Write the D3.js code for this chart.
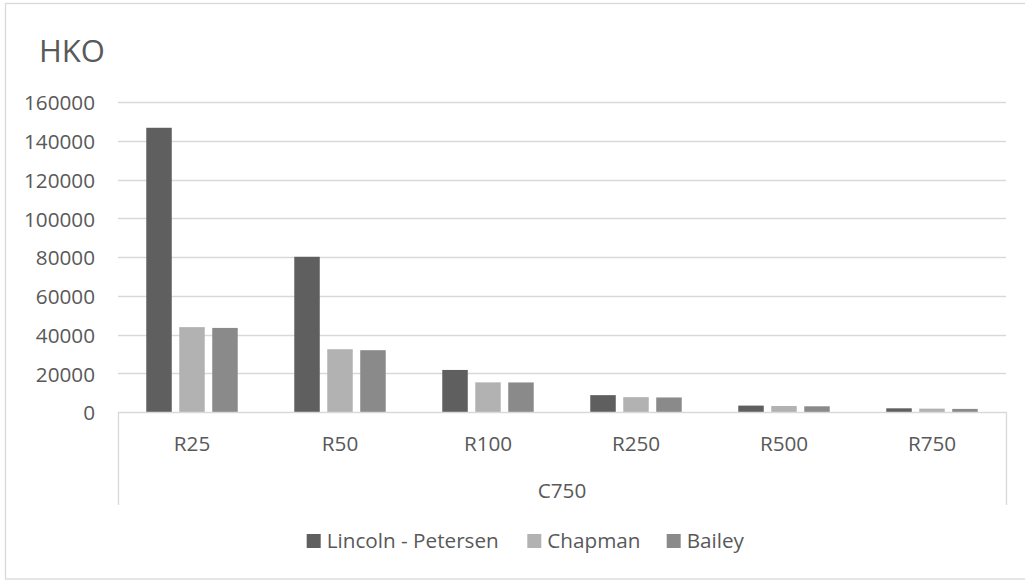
<!DOCTYPE html>
<html><head><meta charset="utf-8">
<script src="https://cdn.jsdelivr.net/npm/d3@7"></script>
<style>html,body{margin:0;padding:0;background:#fff;}svg{display:block;}</style>
</head><body>
<svg id="chart" width="1025" height="581"></svg>
<script>
const categories = ["R25", "R50", "R100", "R250", "R500", "R750"];
const groupLabel = "C750";
const seriesNames = ["Lincoln - Petersen", "Chapman", "Bailey"];
const lincolnPetersen = [146700, 80100, 21700, 8700, 3300, 1900];
const chapman = [43800, 32400, 15300, 7650, 3100, 1750];
const bailey = [43400, 31900, 15250, 7500, 2950, 1600];
const yTicks = [0, 20000, 40000, 60000, 80000, 100000, 120000, 140000, 160000];
const title = "HKO";

const seriesValues = [lincolnPetersen, chapman, bailey];
const colors = ["#5f5f5f", "#b2b2b2", "#8a8a8a"];
const textColor = "#595959";
const gridColor = "#d9d9d9";
const font = "'Open Sans', sans-serif";
const fs = 20.7;

const svg = d3.select("#chart");
const plot = {left: 118, right: 1006, top: 102, bottom: 412};

// outer border
svg.append("rect").attr("x", 5.5).attr("y", 3.5).attr("width", 1030).attr("height", 575.5)
  .attr("fill", "#fff").attr("stroke", gridColor).attr("stroke-width", 1.3);

const y = d3.scaleLinear().domain([0, 160000]).range([plot.bottom, plot.top]);
const x0 = d3.scaleBand().domain(categories).range([plot.left, plot.right]).padding(0);
const bw = x0.bandwidth();
const x1 = d3.scaleBand().domain(seriesNames).range([bw * 0.191, bw * 0.809]).paddingInner(0.227).paddingOuter(0);

// gridlines
svg.append("g").selectAll("line").data(yTicks.filter(d => d > 0)).join("line")
  .attr("x1", plot.left).attr("x2", plot.right)
  .attr("y1", d => Math.round(y(d)) + 0.5).attr("y2", d => Math.round(y(d)) + 0.5)
  .attr("stroke", gridColor).attr("stroke-width", 1.3);

// y axis labels
const yAxis = d3.axisLeft(y).tickValues(yTicks).tickSize(0).tickPadding(23).tickFormat(d3.format("d"));
const gy = svg.append("g").attr("transform", `translate(${plot.left},0)`).call(yAxis);
gy.select(".domain").remove();
gy.selectAll("text").attr("font-family", font).attr("font-size", fs).attr("fill", textColor).attr("dy", "0.38em");

// bars
const groups = svg.append("g").selectAll("g").data(categories).join("g")
  .attr("transform", d => `translate(${x0(d)},0)`);
groups.selectAll("rect").data((c, i) => seriesNames.map((s, j) => ({s, j, v: seriesValues[j][i]}))).join("rect")
  .attr("x", d => x1(d.s)).attr("width", x1.bandwidth())
  .attr("y", d => y(d.v)).attr("height", d => y(0) - y(d.v))
  .attr("fill", d => colors[d.j]);

// category frame
const frameBottom = 505;
const fr = svg.append("g").attr("stroke", gridColor).attr("stroke-width", 1.3).attr("fill", "none");
fr.append("path").attr("d", `M${plot.left + 0.5},${frameBottom} V${plot.bottom + 0.5} H${plot.right + 0.5} V${frameBottom}`);

// category labels
const xAxis = d3.axisBottom(x0).tickSize(0).tickPadding(0);
const gx = svg.append("g").attr("transform", `translate(0,${plot.bottom})`).call(xAxis);
gx.select(".domain").remove();
gx.selectAll("text").attr("font-family", font).attr("font-size", fs).attr("fill", textColor).attr("dy", 38.5);

svg.append("text").attr("x", (plot.left + plot.right) / 2).attr("y", 497.5)
  .attr("text-anchor", "middle").attr("font-family", font).attr("font-size", fs).attr("fill", textColor)
  .text(groupLabel);

// title
svg.append("text").attr("x", 39).attr("y", 62).attr("font-family", font).attr("font-size", 31)
  .attr("fill", textColor).text(title);

// legend
const legendX = [306.7, 527.3, 666.7];
const lg = svg.append("g").selectAll("g").data(seriesNames).join("g")
  .attr("transform", (d, i) => `translate(${legendX[i]},534)`);
lg.append("rect").attr("width", 14).attr("height", 14).attr("fill", (d, i) => colors[i]);
lg.append("text").attr("x", 20).attr("y", 14).attr("font-family", font).attr("font-size", fs)
  .attr("fill", textColor).text(d => d);
</script>
</body></html>
